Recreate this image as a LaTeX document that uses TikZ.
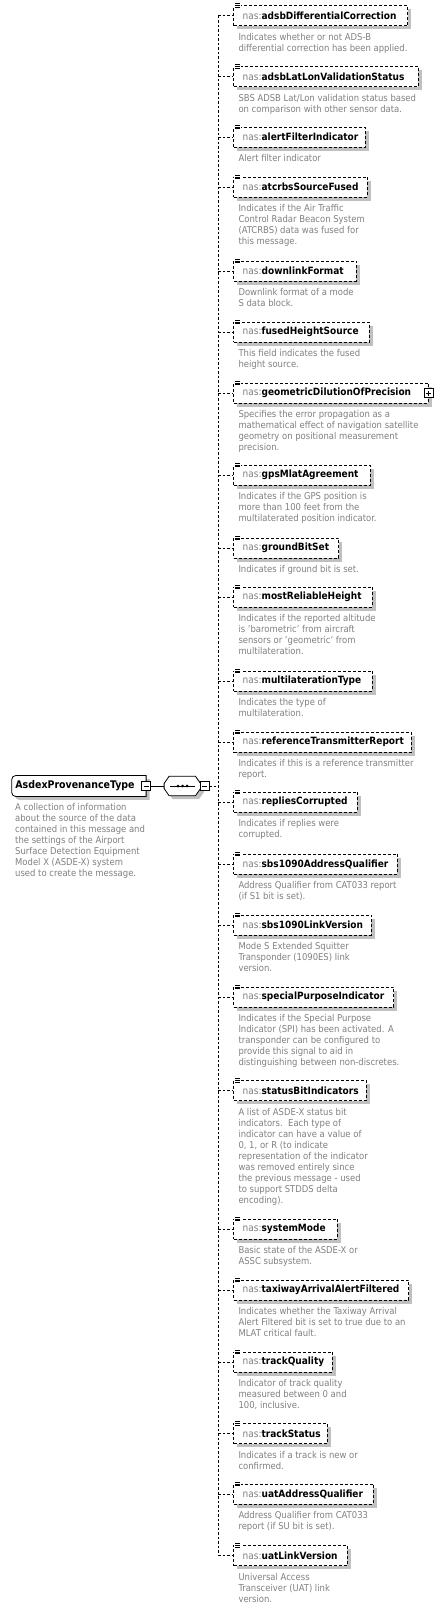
\documentclass[tikz,border=0pt]{standalone}
\usepackage{fontspec}
\setmainfont{DejaVu Sans Condensed}
\usetikzlibrary{positioning,shadows,backgrounds,calc}
\definecolor{docgray}{HTML}{808080}
\definecolor{nsgray}{HTML}{808080}
\definecolor{shadowgray}{HTML}{C0C0C0}
\newcommand{\elemfont}{\fontsize{10}{12}\selectfont}
\newcommand{\docfont}{\fontsize{9.4}{11}\selectfont}
\newcommand{\rootfont}{\fontsize{10.5}{12}\selectfont\bfseries}
\newcommand{\ns}[1]{{\color{nsgray}nas:}{\bfseries #1}}

\begin{document}
\begin{tikzpicture}[
    x=1pt, y=-1pt,
    elem/.style={rectangle, draw=black, line width=0.8pt, dash pattern=on 3pt off 2pt,
                 fill=white, anchor=west, minimum height=20pt, inner xsep=9pt, inner ysep=0pt,
                 text width=#1, align=left, font=\elemfont,
                 drop shadow={shadow xshift=3.5pt, shadow yshift=-3.5pt, fill=shadowgray,
                              opacity=1, draw=none}},
    doc/.style={anchor=north west, inner sep=0pt, align=left, text=docgray, font=\docfont},
    rootbox/.style={anchor=west, minimum height=20.5pt, text width=127pt, inner xsep=3.5pt,
                    inner ysep=0pt, align=left, font=\rootfont},
    seqbox/.style={minimum width=36pt, minimum height=19pt, inner sep=0pt},
    link/.style={line width=0.8pt, dash pattern=on 2.5pt off 2pt},
    solidlink/.style={line width=0.8pt},
    btn/.style={rectangle, draw=black, line width=0.6pt, fill=white, minimum size=9pt, inner sep=0pt},
    minusbtn/.style={btn, path picture={
        \draw[line width=0.6pt] ([xshift=-2.5pt]path picture bounding box.center)
            -- ([xshift=2.5pt]path picture bounding box.center);}},
    plusbtn/.style={btn, path picture={
        \draw[line width=0.6pt] ([xshift=-2.5pt]path picture bounding box.center)
            -- ([xshift=2.5pt]path picture bounding box.center);
        \draw[line width=0.6pt] ([yshift=-2.5pt]path picture bounding box.center)
            -- ([yshift=2.5pt]path picture bounding box.center);}},
]
\useasboundingbox (0,0) rectangle (442,1610);

% Root type
\node[rootbox] (root) at (11.7,786) {AsdexProvenanceType};
\node[doc] (rootdoc) at ([shift={(3.3,6.2)}]root.south west) {\strut A collection of information\\
    about the source of the data\\contained in this message and\\the settings of the Airport\\
    Surface Detection Equipment\\Model X (ASDE-X) system\\used to create the message.};
\node[minusbtn] (rootminus) at (root.east) {};

% Sequence compositor
\node[seqbox, right=18pt of root.east] (seq) {};
\node[minusbtn, anchor=west] (seqminus) at ([xshift=-1pt]seq.east) {};
\draw[line width=0.8pt] ([xshift=-12pt]seq.center) -- ([xshift=12.5pt]seq.center);
\foreach \d in {-4.3,0.3,4.9}
    \fill ([xshift=\d pt]seq.center) circle (1.5pt);

% Outlines behind root and sequence
\begin{scope}[on background layer]
\fill[shadowgray, transform canvas={xshift=3.5pt, yshift=-3.5pt}] (root.south east) -- (root.north east)
    -- ([xshift=4pt]root.north west) arc[start angle=90, end angle=180, radius=4pt]
    -- ([yshift=4pt]root.south west) arc[start angle=180, end angle=270, radius=4pt] -- cycle;
\draw[solidlink, fill=white] (root.south east) -- (root.north east)
    -- ([xshift=4pt]root.north west) arc[start angle=90, end angle=180, radius=4pt]
    -- ([yshift=4pt]root.south west) arc[start angle=180, end angle=270, radius=4pt] -- cycle;
\fill[shadowgray, transform canvas={xshift=3.5pt, yshift=-3.5pt}] ([xshift=5pt]seq.north west)
    -- ([xshift=-5pt]seq.north east) -- ([yshift=2.5pt]seq.east) -- ([yshift=-2.5pt]seq.east)
    -- ([xshift=-5pt]seq.south east) -- ([xshift=5pt]seq.south west)
    -- ([yshift=-2.5pt]seq.west) -- ([yshift=2.5pt]seq.west) -- cycle;
\draw[solidlink, fill=white] ([xshift=5pt]seq.north west)
    -- ([xshift=-5pt]seq.north east) -- ([yshift=2.5pt]seq.east) -- ([yshift=-2.5pt]seq.east)
    -- ([xshift=-5pt]seq.south east) -- ([xshift=5pt]seq.south west)
    -- ([yshift=-2.5pt]seq.west) -- ([yshift=2.5pt]seq.west) -- cycle;
\end{scope}
\draw[solidlink] (rootminus.east) -- (seq.west);

% Child elements
\node[elem=156pt] (diffcorr) at (233.3,15.5) {\ns{adsbDifferentialCorrection}};
\node[doc] (diffcorrdoc) at ([shift={(5,6.6)}]diffcorr.south west) {\strut Indicates whether or not ADS-B\\
    differential correction has been applied.};

\node[elem=166.4pt] (latlon) at (233.3,76.5) {\ns{adsbLatLonValidationStatus}};
\node[doc] (latlondoc) at ([shift={(5,6.6)}]latlon.south west) {\strut SBS ADSB Lat/Lon validation status based\\
    on comparison with other sensor data.};

\node[elem=113.7pt] (alertfilt) at (233.3,137) {\ns{alertFilterIndicator}};
\node[doc] (alertfiltdoc) at ([shift={(5,6.6)}]alertfilt.south west) {\strut Alert filter indicator};

\node[elem=115.4pt] (atcrbs) at (233.3,187) {\ns{atcrbsSourceFused}};
\node[doc] (atcrbsdoc) at ([shift={(5,6.6)}]atcrbs.south west) {\strut Indicates if the Air Traffic\\
    Control Radar Beacon System\\(ATCRBS) data was fused for\\this message.};

\node[elem=104.4pt] (downlink) at (233.3,271) {\ns{downlinkFormat}};
\node[doc] (downlinkdoc) at ([shift={(5,6.6)}]downlink.south west) {\strut Downlink format of a mode\\
    S data block.};

\node[elem=117.7pt] (fusedht) at (233.3,332) {\ns{fusedHeightSource}};
\node[doc] (fusedhtdoc) at ([shift={(5,6.6)}]fusedht.south west) {\strut This field indicates the fused\\
    height source.};

\node[elem=176.4pt] (gdop) at (233.3,393) {\ns{geometricDilutionOfPrecision}};
\node[plusbtn] (gdopplus) at (gdop.east) {};
\node[doc] (gdopdoc) at ([shift={(5,6.6)}]gdop.south west) {\strut Specifies the error propagation as a\\
    mathematical effect of navigation satellite\\geometry on positional measurement\\precision.};

\node[elem=118.7pt] (gpsmlat) at (233.3,475) {\ns{gpsMlatAgreement}};
\node[doc] (gpsmlatdoc) at ([shift={(5,6.6)}]gpsmlat.south west) {\strut Indicates if the GPS position is\\
    more than 100 feet from the\\multilaterated position indicator.};

\node[elem=87pt] (groundbit) at (233.3,548) {\ns{groundBitSet}};
\node[doc] (groundbitdoc) at ([shift={(5,6.6)}]groundbit.south west) {\strut Indicates if ground bit is set.};

\node[elem=120.4pt] (relheight) at (233.3,597) {\ns{mostReliableHeight}};
\node[doc] (relheightdoc) at ([shift={(5,6.6)}]relheight.south west) {\strut Indicates if the reported altitude\\
    is 'barometric' from aircraft\\sensors or 'geometric' from\\multilateration.};

\node[elem=120.4pt] (mlattype) at (233.3,681) {\ns{multilaterationType}};
\node[doc] (mlattypedoc) at ([shift={(5,6.6)}]mlattype.south west) {\strut Indicates the type of\\
    multilateration.};

\node[elem=159.7pt] (reftx) at (233.3,742) {\ns{referenceTransmitterReport}};
\node[doc] (reftxdoc) at ([shift={(5,6.6)}]reftx.south west) {\strut Indicates if this is a reference transmitter\\
    report.};

\node[elem=105.4pt] (replies) at (233.3,802) {\ns{repliesCorrupted}};
\node[doc] (repliesdoc) at ([shift={(5,6.6)}]replies.south west) {\strut Indicates if replies were\\
    corrupted.};

\node[elem=145.4pt] (sbsaddr) at (233.3,864) {\ns{sbs1090AddressQualifier}};
\node[doc] (sbsaddrdoc) at ([shift={(5,6.6)}]sbsaddr.south west) {\strut Address Qualifier from CAT033 report\\
    (if S1 bit is set).};

\node[elem=119.4pt] (sbslink) at (233.3,925) {\ns{sbs1090LinkVersion}};
\node[doc] (sbslinkdoc) at ([shift={(5,6.6)}]sbslink.south west) {\strut Mode S Extended Squitter\\
    Transponder (1090ES) link\\version.};

\node[elem=142pt] (spi) at (233.3,997) {\ns{specialPurposeIndicator}};
\node[doc] (spidoc) at ([shift={(5,6.6)}]spi.south west) {\strut Indicates if the Special Purpose\\
    Indicator (SPI) has been activated. A\\transponder can be configured to\\
    provide this signal to aid in\\distinguishing between non-discretes.};

\node[elem=114.4pt] (statusbits) at (233.3,1090.5) {\ns{statusBitIndicators}};
\node[doc] (statusbitsdoc) at ([shift={(5,6.6)}]statusbits.south west) {\strut A list of ASDE-X status bit\\
    indicators.\ \ Each type of\\indicator can have a value of\\0, 1, or R (to indicate\\
    representation of the indicator\\was removed entirely since\\the previous message - used\\
    to support STDDS delta\\encoding).};

\node[elem=85.4pt] (sysmode) at (233.3,1229) {\ns{systemMode}};
\node[doc] (sysmodedoc) at ([shift={(5,6.6)}]sysmode.south west) {\strut Basic state of the ASDE-X or\\
    ASSC subsystem.};

\node[elem=157pt] (taxiway) at (233.3,1290) {\ns{taxiwayArrivalAlertFiltered}};
\node[doc] (taxiwaydoc) at ([shift={(5,6.6)}]taxiway.south west) {\strut Indicates whether the Taxiway Arrival\\
    Alert Filtered bit is set to true due to an\\MLAT critical fault.};

\node[elem=80.4pt] (trackq) at (233.3,1362) {\ns{trackQuality}};
\node[doc] (trackqdoc) at ([shift={(5,6.6)}]trackq.south west) {\strut Indicator of track quality\\
    measured between 0 and\\100, inclusive.};

\node[elem=75.4pt] (trackst) at (233.3,1433.5) {\ns{trackStatus}};
\node[doc] (trackstdoc) at ([shift={(5,6.6)}]trackst.south west) {\strut Indicates if a track is new or\\
    confirmed.};

\node[elem=121.4pt] (uataddr) at (233.3,1494) {\ns{uatAddressQualifier}};
\node[doc] (uataddrdoc) at ([shift={(5,6.6)}]uataddr.south west) {\strut Address Qualifier from CAT033\\
    report (if SU bit is set).};

\node[elem=95.4pt] (uatlink) at (233.3,1555.5) {\ns{uatLinkVersion}};
\node[doc] (uatlinkdoc) at ([shift={(5,6.6)}]uatlink.south west) {\strut Universal Access\\
    Transceiver (UAT) link\\version.};

% Bus and branches
\coordinate (bus) at (218.3,0);
\draw[link] (diffcorr.west -| bus) -- (uatlink.west -| bus);
\draw[link] (seqminus.east) -- (seqminus.east -| bus);
\foreach \e in {diffcorr,latlon,alertfilt,atcrbs,downlink,fusedht,gdop,gpsmlat,groundbit,
                relheight,mlattype,reftx,replies,sbsaddr,sbslink,spi,statusbits,sysmode,
                taxiway,trackq,trackst,uataddr,uatlink} {
    \draw[link] (\e.west -| bus) -- (\e.west);
    % documentation marker
    \fill[white] ([shift={(1,-2.5)}]\e.north west) rectangle ([shift={(8,3)}]\e.north west);
    \foreach \k in {-1.5,0.3,2.1}
        \draw[line width=0.5pt] ([shift={(2,\k)}]\e.north west) -- ++(5,0);
}

\end{tikzpicture}
\end{document}
